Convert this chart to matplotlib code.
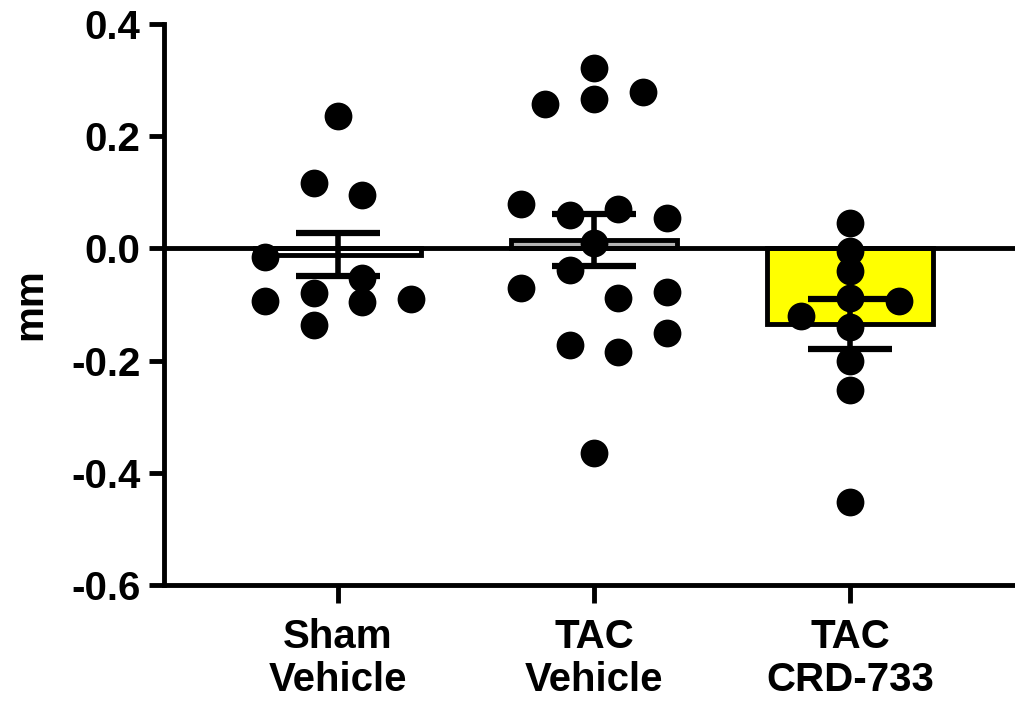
import numpy as np
import matplotlib
matplotlib.use("Agg")
import matplotlib.pyplot as plt

plt.rcParams.update({
    "font.family": ["Liberation Sans", "DejaVu Sans"],
    "font.weight": "bold",
    "axes.unicode_minus": False,
})

groups = ["Sham\nVehicle", "TAC\nVehicle", "TAC\nCRD-733"]
bar_colors = ["white", "#b4b4b4", "#ffff00"]

# individual animals (mm), with the column slot each dot sits in
sham_vals = [0.236, 0.116, 0.096, -0.016, -0.093, -0.080, -0.052, -0.096, -0.136, -0.091]
sham_cols = [0, -1, 1, -3, -3, -1, 1, 1, -1, 3]

tac_vals = [0.321, 0.257, 0.266, 0.279, 0.079, 0.059, 0.071, 0.054, 0.009,
            -0.070, -0.039, -0.089, -0.077, -0.150, -0.173, -0.184, -0.364]
tac_cols = [0, -2, 0, 2, -3, -1, 1, 3, 0, -3, -1, 1, 3, 3, -1, 1, 0]

crd_vals = [0.046, -0.004, -0.040, -0.088, -0.093, -0.121, -0.141, -0.200, -0.252, -0.452]
crd_cols = [0, 0, 0, 0, 2, -2, 0, 0, 0, 0]

yticks = [0.4, 0.2, 0.0, -0.2, -0.4, -0.6]

values = [np.array(sham_vals), np.array(tac_vals), np.array(crd_vals)]
cols = [np.array(sham_cols), np.array(tac_cols), np.array(crd_cols)]
means = [v.mean() for v in values]
sems = [v.std(ddof=1) / np.sqrt(len(v)) for v in values]
x = np.arange(len(groups))

fig = plt.figure(figsize=(10.15, 7.02), dpi=100)
ax = fig.add_axes([0.1616, 0.1667, 0.8384, 0.7991])

lw = 3.5
ax.bar(x, means, width=0.65, color=bar_colors, edgecolor="black",
       linewidth=lw, zorder=2)
ax.axhline(0, color="black", lw=lw, zorder=3)

step = 0.095
for i in range(len(groups)):
    ax.plot(x[i] + cols[i] * step, values[i], "o", color="black",
            markersize=20, markeredgewidth=0, zorder=4)

ax.errorbar(x, means, yerr=sems, fmt="none", ecolor="black", elinewidth=4,
            capsize=30, capthick=4.5, zorder=5)

ax.set_xlim(-0.68, 2.645)
ax.set_ylim(-0.6, 0.4)
ax.set_yticks(yticks)
ax.set_yticklabels([f"{t:.1f}" for t in yticks])
ax.set_xticks(x)
ax.set_xticklabels(groups, linespacing=1.17)

for side in ["top", "right"]:
    ax.spines[side].set_visible(False)
for side in ["left", "bottom"]:
    ax.spines[side].set_linewidth(lw)
ax.tick_params(axis="both", width=lw, length=11, labelsize=29, pad=6)
ax.tick_params(axis="x", length=13, pad=11)
for lab in ax.get_xticklabels() + ax.get_yticklabels():
    lab.set_fontweight("bold")

ax.set_ylabel("mm", fontsize=29, fontweight="bold", labelpad=16)

fig.savefig("out.png", dpi=100)
